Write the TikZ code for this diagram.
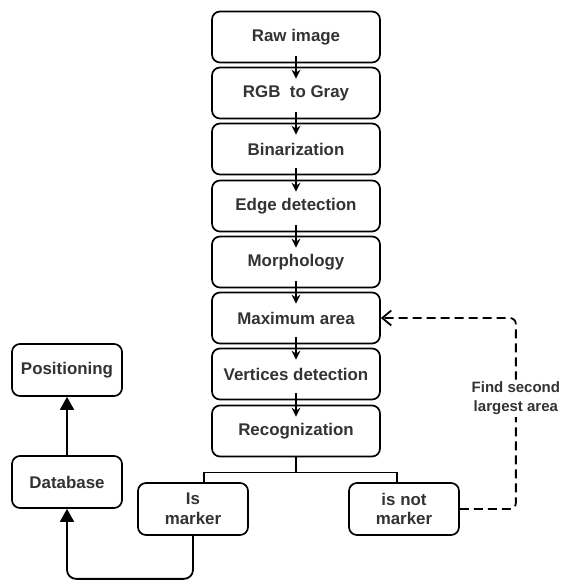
\documentclass[tikz,border=0pt]{standalone}
\usepackage{fontspec}
\setmainfont{Liberation Sans}
\usetikzlibrary{arrows.meta, positioning, calc}
\newcommand{\stagefont}{\bfseries\fontsize{16.9}{19.5}\selectfont}
\newcommand{\notefont}{\bfseries\fontsize{15}{19}\selectfont}

\begin{document}
\begin{tikzpicture}[x=1pt, y=-1pt,
    stage/.style={rectangle, rounded corners=8pt, draw, line width=1.7pt, fill=white, minimum width=168pt, minimum height=51pt, align=center, font=\stagefont, text=black!80},
    side/.style={stage, minimum width=110pt, minimum height=52pt},
    arrow/.style={-{Stealth[length=9pt, width=9pt]}, line width=1.3pt, shorten <=-7pt, shorten >=-12pt},
    branch/.style={line width=1.5pt},
    bigarrow/.style={-{Triangle[length=13pt, width=14pt]}, line width=1.8pt, rounded corners=9pt},
    back/.style={-{Straight Barb[length=9pt, width=15pt]}, line width=1.8pt, dash pattern=on 9pt off 5pt, rounded corners=6pt}
]
\useasboundingbox (0,0) rectangle (564,580);

\node[stage] (raw) at (296,37) {Raw image};
\node[stage] (gray) at (296,93) {RGB\ \ to Gray};
\node[stage] (binar) at (296,149) {Binarization};
\node[stage] (edge) at (296,206) {Edge detection};
\node[stage] (morph) at (296,262) {Morphology};
\node[stage] (maxarea) at (296,318) {Maximum area};
\node[stage] (vertex) at (296,374) {Vertices detection};
\node[stage] (recog) at (296,431) {Recognization};

\node[side] (ismark) at (193,509) {Is\\marker};
\node[side] (notmark) at (404,509) {is not\\marker};
\node[side] (db) at (67,482) {Database};
\node[side] (posit) at (67,370) {Positioning};

\draw[arrow] (raw) -- (gray);
\draw[arrow] (gray) -- (binar);
\draw[arrow] (binar) -- (edge);
\draw[arrow] (edge) -- (morph);
\draw[arrow] (morph) -- (maxarea);
\draw[arrow] (maxarea) -- (vertex);
\draw[arrow] (vertex) -- (recog);

\draw[branch] (recog.south) -- ++(0,15) -| ([xshift=11pt]ismark.north);
\draw[branch] (recog.south) -- ++(0,15) -| ([xshift=-7pt]notmark.north);

\draw[bigarrow] (ismark.south) -- ++(0,43) -| (db.south);
\draw[bigarrow] (db) -- (posit);

\draw[back] (notmark.east) -- ++(56,0) |- node[pos=0.29, fill=white, inner sep=2pt, align=center, font=\notefont, text=black!80] (findnote) {Find second\\largest area} (maxarea.east);
\end{tikzpicture}
\end{document}
